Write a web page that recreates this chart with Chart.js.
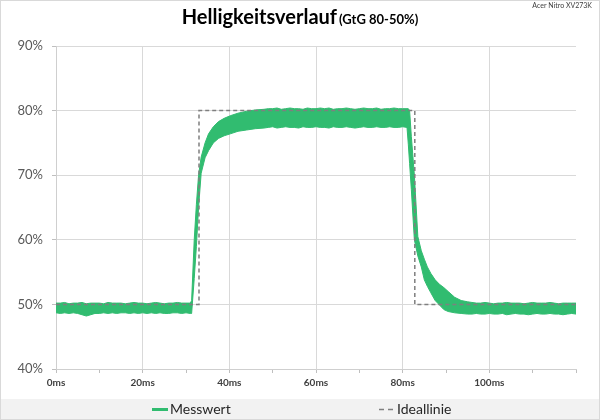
<!DOCTYPE html>
<html lang="de">
<head>
<meta charset="utf-8">
<title>Helligkeitsverlauf</title>
<script src="https://cdn.jsdelivr.net/npm/chart.js@4.4.1/dist/chart.umd.min.js"></script>
<style>
  html, body { margin: 0; padding: 0; background: #fff; }
  canvas { display: block; }
</style>
</head>
<body>
<canvas id="chart" width="600" height="420"></canvas>
<script>
const chartTitle = 'Helligkeitsverlauf';
const chartSubtitle = '(GtG 80-50%)';
const deviceName = 'Acer Nitro XV273K';

const xRangeMs = [0, 120];
const yRangePct = [40, 90];

// Messwert: obere / untere Kante des Rauschbands
const baseTimeMs = [0, 1, 2, 3, 4, 5, 6, 7, 8, 9, 10, 11, 12, 13, 14, 15, 16, 17, 18, 19, 20, 21, 22, 23, 24, 25, 26, 27, 28, 29, 30, 31];
const baseUpper = [50.2, 50.2, 50.3, 50.1, 50.2, 50.2, 50.3, 50.1, 50.2, 50.2, 50.2, 50.1, 50.3, 50.2, 50.2, 50.2, 50.1, 50.2, 50.3, 50.2, 50.2, 50.1, 50.2, 50.3, 50.2, 50.1, 50.2, 50.2, 50.3, 50.2, 50.2, 50.2];
const baseLower = [48.7, 48.6, 48.7, 48.6, 48.7, 48.6, 48.4, 48.2, 48.4, 48.6, 48.6, 48.7, 48.6, 48.7, 48.6, 48.7, 48.7, 48.6, 48.7, 48.6, 48.7, 48.6, 48.7, 48.6, 48.7, 48.6, 48.6, 48.7, 48.7, 48.6, 48.7, 48.6];

const riseTimeMs = [31.3, 31.9, 32.4, 32.9, 33.5, 34.4, 35.2, 36.3, 37.5, 38.8, 40.2, 42, 44, 46, 48];
const riseUpper = [50.6, 60, 65.5, 70, 72.8, 75, 76.4, 77.5, 78.3, 78.8, 79.2, 79.6, 79.9, 80.1, 80.2];
const riseLower = [48.6, 54, 59, 65, 70.3, 72.7, 73.8, 75.0, 75.7, 76.1, 76.4, 76.8, 77.0, 77.2, 77.3];

const topTimeMs = [49, 50, 51, 52, 53, 54, 55, 56, 57, 58, 59, 60, 61, 62, 63, 64, 65, 66, 67, 68, 69, 70, 71, 72, 73, 74, 75, 76, 77, 78, 79, 80, 81];
const topUpper = [80.3, 80.3, 80.4, 80.2, 80.3, 80.4, 80.3, 80.3, 80.2, 80.4, 80.3, 80.3, 80.4, 80.3, 80.4, 80.2, 80.3, 80.3, 80.4, 80.3, 80.2, 80.3, 80.4, 80.3, 80.3, 80.4, 80.2, 80.3, 80.3, 80.4, 80.3, 80.3, 80.3];
const topLower = [77.4, 77.5, 77.3, 77.4, 77.5, 77.4, 77.4, 77.3, 77.5, 77.4, 77.4, 77.5, 77.4, 77.4, 77.3, 77.5, 77.4, 77.4, 77.5, 77.4, 77.3, 77.4, 77.5, 77.4, 77.4, 77.5, 77.4, 77.4, 77.5, 77.4, 77.4, 77.5, 77.4];

const fallTimeMs = [81.3, 81.6, 82.0, 82.7, 83.5, 84.3, 85.0, 85.7, 86.5, 87.5, 88.5, 89.5, 90.5, 92, 93.5, 95];
const fallUpper = [80.3, 80.0, 76, 70, 60.5, 58.3, 57.0, 55.8, 54.8, 53.8, 53.1, 52.6, 52.0, 51.1, 50.6, 50.4];
const fallLower = [74.8, 71.8, 67.8, 60, 57.5, 55.8, 53.8, 52.8, 51.8, 50.6, 49.9, 49.2, 48.9, 48.7, 48.6, 48.5];

const endTimeMs = [96, 97, 98, 99, 100, 101, 102, 103, 104, 105, 106, 107, 108, 109, 110, 111, 112, 113, 114, 115, 116, 117, 118, 119, 120];
const endUpper = [50.3, 50.2, 50.2, 50.3, 50.2, 50.1, 50.2, 50.2, 50.3, 50.2, 50.2, 50.2, 50.1, 50.2, 50.3, 50.2, 50.2, 50.2, 50.3, 50.2, 50.1, 50.2, 50.2, 50.2, 50.2];
const endLower = [48.5, 48.6, 48.5, 48.5, 48.6, 48.5, 48.5, 48.6, 48.4, 48.5, 48.6, 48.5, 48.5, 48.4, 48.5, 48.6, 48.5, 48.5, 48.6, 48.5, 48.5, 48.4, 48.5, 48.6, 48.5];

// Ideallinie
const idealTimeMs = [0, 33, 33, 82.8, 82.8, 120];
const idealPct = [50, 50, 80, 80, 50, 50];

const timeMs = [...baseTimeMs, ...riseTimeMs, ...topTimeMs, ...fallTimeMs, ...endTimeMs];
const upperPct = [...baseUpper, ...riseUpper, ...topUpper, ...fallUpper, ...endUpper];
const lowerPct = [...baseLower, ...riseLower, ...topLower, ...fallLower, ...endLower];

const toPoints = (xs, ys) => xs.map((x, i) => ({ x, y: ys[i] }));

const green = '#31bc70';
const idealGray = '#7f7f7f';
const font = 'Lato, "Liberation Sans", sans-serif';

Chart.defaults.font.family = font;

// Hintergrund, Rahmen und grauer Legendenstreifen
const frame = {
  id: 'frame',
  beforeDraw(chart) {
    const { ctx, width, height } = chart;
    ctx.save();
    ctx.fillStyle = '#ffffff';
    ctx.fillRect(0, 0, width, height);
    ctx.fillStyle = '#f2f2f2';
    ctx.fillRect(0, 399, width, height - 399);
    ctx.strokeStyle = '#d9d9d9';
    ctx.lineWidth = 1;
    ctx.strokeRect(0.5, 0.5, width - 1, height - 1);
    ctx.restore();
  },
};

const heading = {
  id: 'heading',
  afterDraw(chart) {
    const { ctx, width } = chart;
    ctx.save();
    ctx.fillStyle = '#000';
    ctx.textBaseline = 'alphabetic';
    ctx.font = 'bold 20px ' + font;
    const w1 = ctx.measureText(chartTitle).width;
    ctx.font = 'bold 13px ' + font;
    const w2 = ctx.measureText(chartSubtitle).width;
    const x0 = width / 2 - (w1 + 2 + w2) / 2;
    ctx.font = 'bold 20px ' + font;
    ctx.textAlign = 'left';
    ctx.fillText(chartTitle, x0, 24);
    ctx.font = 'bold 13px ' + font;
    ctx.fillText(chartSubtitle, x0 + w1 + 2, 24);

    ctx.font = '7px ' + font;
    ctx.fillStyle = '#404040';
    ctx.textAlign = 'right';
    ctx.fillText(deviceName, width - 8, 8);
    ctx.restore();
  },
};

const legendBar = {
  id: 'legendBar',
  afterDraw(chart) {
    const { ctx } = chart;
    const sets = chart.data.datasets;
    const items = [
      { ds: sets[2], x: 152, lineWidth: 3, dash: [] },
      { ds: sets[0], x: 379, lineWidth: 1.5, dash: [5, 4] },
    ];
    const y = 409.5;
    ctx.save();
    items.forEach((it) => {
      ctx.beginPath();
      ctx.setLineDash(it.dash);
      ctx.strokeStyle = it.ds.borderColor;
      ctx.lineWidth = it.lineWidth;
      ctx.moveTo(it.x, y);
      ctx.lineTo(it.x + 16, y);
      ctx.stroke();
      ctx.setLineDash([]);
      ctx.fillStyle = '#262626';
      ctx.font = '14px ' + font;
      ctx.textBaseline = 'middle';
      ctx.textAlign = 'left';
      ctx.fillText(it.ds.label, it.x + 18, y);
    });
    ctx.restore();
  },
};

new Chart(document.getElementById('chart'), {
  type: 'line',
  data: {
    datasets: [
      {
        label: 'Ideallinie',
        data: toPoints(idealTimeMs, idealPct),
        borderColor: idealGray,
        borderWidth: 1.5,
        borderDash: [4, 3],
        pointRadius: 0,
        fill: false,
      },
      {
        label: 'Messwert (unten)',
        data: toPoints(timeMs, lowerPct),
        borderColor: green,
        borderWidth: 1,
        pointRadius: 0,
        fill: false,
      },
      {
        label: 'Messwert',
        data: toPoints(timeMs, upperPct),
        borderColor: green,
        backgroundColor: green,
        borderWidth: 1,
        pointRadius: 0,
        fill: '-1',
      },
    ],
  },
  options: {
    responsive: false,
    animation: false,
    layout: { padding: { top: 46, right: 24, bottom: 21, left: 0 } },
    plugins: {
      legend: { display: false },
      title: { display: false },
      tooltip: { enabled: false },
    },
    scales: {
      x: {
        type: 'linear',
        min: xRangeMs[0],
        max: xRangeMs[1],
        afterFit: (s) => { s.height = 30; },
        ticks: {
          stepSize: 10,
          autoSkip: false,
          maxRotation: 0,
          padding: 4,
          color: '#404040',
          font: { size: 10, weight: 'bold' },
          callback: (v) => (v % 20 === 0 && v < 120 ? v + 'ms' : ''),
        },
        grid: {
          color: (c) => (c.tick && c.tick.value % 20 === 0 && c.tick.value < 120 ? '#d9d9d9' : 'rgba(0,0,0,0)'),
          tickColor: '#bfbfbf',
          tickLength: 4,
        },
        border: { color: '#cfcfcf' },
      },
      y: {
        min: yRangePct[0],
        max: yRangePct[1],
        afterFit: (s) => { s.width = 56; },
        ticks: {
          stepSize: 10,
          padding: 9,
          color: '#595959',
          font: { size: 13 },
          callback: (v) => v + '%',
        },
        grid: { color: '#d9d9d9', tickColor: '#bfbfbf', tickLength: 4 },
        border: { color: '#cfcfcf' },
      },
    },
  },
  plugins: [frame, heading, legendBar],
});
</script>
</body>
</html>
